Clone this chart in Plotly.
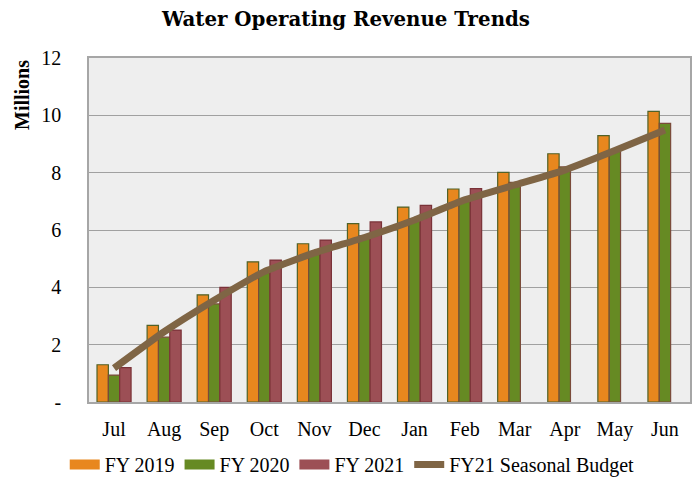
import plotly.graph_objects as go

months = ["Jul", "Aug", "Sep", "Oct", "Nov", "Dec", "Jan", "Feb", "Mar", "Apr", "May", "Jun"]
fy2019 = [1.30, 2.67, 3.74, 4.89, 5.52, 6.22, 6.80, 7.43, 8.01, 8.66, 9.29, 10.14]
fy2020 = [0.94, 2.26, 3.42, 4.55, 5.15, 5.80, 6.40, 7.00, 7.66, 8.20, 8.79, 9.72]
fy2021 = [1.20, 2.51, 4.00, 4.95, 5.65, 6.28, 6.86, 7.44]
budget = [1.18, 2.45, 3.55, 4.55, 5.20, 5.74, 6.35, 7.05, 7.57, 8.09, 8.77, 9.49]

ytick_vals = [0, 2, 4, 6, 8, 10, 12]
ytick_text = ["-", "2", "4", "6", "8", "10", "12"]

serif = "Liberation Serif, DejaVu Serif, serif"

c19, c20, c21, cbud = "#E8871E", "#668A23", "#9C4F55", "#7F6545"

fig = go.Figure()
fig.add_trace(go.Bar(name="FY 2019", x=months, y=fy2019, showlegend=False,
                     marker=dict(color=c19, line=dict(color="#4F6228", width=1.2))))
fig.add_trace(go.Bar(name="FY 2020", x=months, y=fy2020, showlegend=False,
                     marker=dict(color=c20, line=dict(color="#7A4A3A", width=1.2))))
fig.add_trace(go.Bar(name="FY 2021", x=months[:len(fy2021)], y=fy2021, showlegend=False,
                     marker=dict(color=c21, line=dict(color="#7A3238", width=1.2))))
fig.add_trace(go.Scatter(name="FY21 Seasonal Budget", x=months, y=budget, mode="lines",
                         showlegend=False,
                         line=dict(color=cbud, width=7, shape="spline", smoothing=0.4)))

# legend entries (wide rectangular keys like the original)
for name, col, w in [("FY 2019", c19, 11), ("FY 2020", c20, 11), ("FY 2021", c21, 11),
                     ("FY21 Seasonal Budget", cbud, 7)]:
    fig.add_trace(go.Scatter(name=name, x=[None], y=[None], mode="lines",
                             line=dict(color=col, width=w), showlegend=True))

fig.update_layout(
    width=697, height=483,
    margin=dict(l=89, r=7, t=58, b=81, autoexpand=False),
    paper_bgcolor="white",
    plot_bgcolor="#EEEEEE",
    barmode="group",
    bargap=0.32,
    bargroupgap=0,
    font=dict(family=serif, size=20, color="black"),
    title=dict(text="<b>Water Operating Revenue Trends</b>", x=346 / 697, xanchor="center",
               xref="container", yref="container", y=1 - 19 / 483, yanchor="middle",
               font=dict(family="DejaVu Serif, serif", size=19.8)),
    legend=dict(orientation="h", x=0.438, xanchor="center", y=-0.125, yanchor="top",
                font=dict(size=20), itemwidth=30, tracegroupgap=0),
    annotations=[dict(text="<b>Millions</b>", xref="paper", yref="paper",
                      x=(22 - 89) / 601, y=(402 - 95) / 344, xanchor="center", yanchor="middle",
                      textangle=-90, showarrow=False, font=dict(size=20, family=serif))],
)
fig.update_xaxes(showgrid=False, showline=True, linecolor="#A6A6A6", linewidth=1.5,
                 ticks="", tickfont=dict(size=20), mirror=True, automargin=False,
                 ticklabelstandoff=8)
fig.update_yaxes(range=[0, 12], tickvals=ytick_vals, ticktext=ytick_text,
                 showgrid=True, gridcolor="#A0A0A0", gridwidth=1.2,
                 showline=True, linecolor="#A6A6A6", linewidth=1.5, mirror=True,
                 ticks="", tickfont=dict(size=20), zeroline=False, automargin=False,
                 ticklabelstandoff=22)

fig.write_html("out.html", config={"displayModeBar": False},
               post_script="document.body.style.margin='0';")
